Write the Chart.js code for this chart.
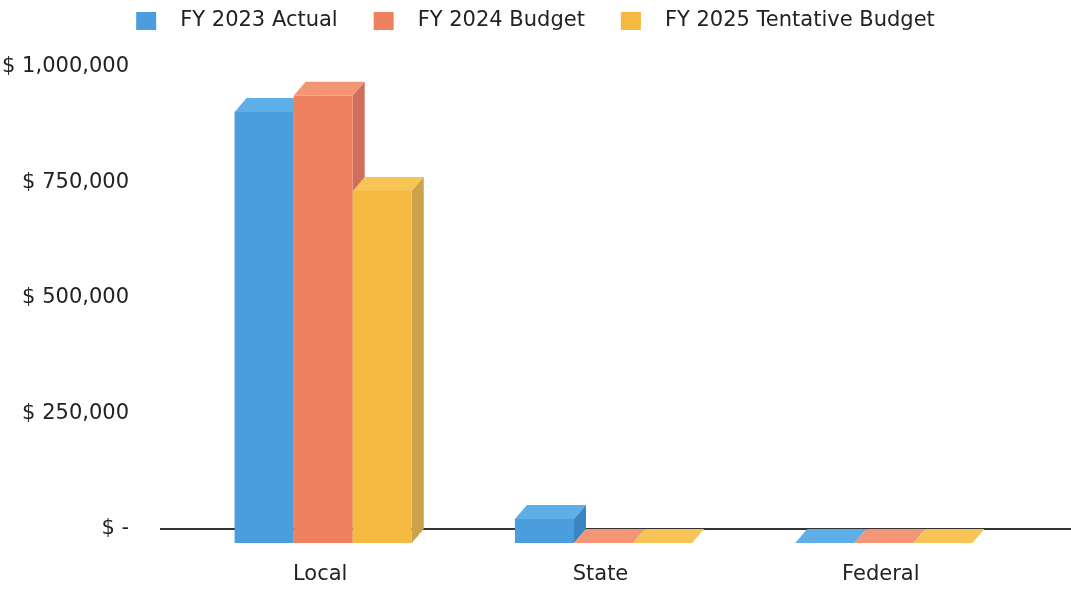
<!DOCTYPE html>
<html>
<head>
<meta charset="utf-8">
<title>Revenue by Source</title>
<script src="https://cdn.jsdelivr.net/npm/chart.js@4.4.0/dist/chart.umd.min.js"></script>
<style>
    html, body { margin: 0; padding: 0; background: #fff; }
    #wrap { width: 1071px; height: 591px; }
</style>
</head>
<body>
<div id="wrap"><canvas id="revenueChart"></canvas></div>
<script>
// Revenue by source, three budget years
const categories = ['Local', 'State', 'Federal'];
const seriesNames = ['FY 2023 Actual', 'FY 2024 Budget', 'FY 2025 Tentative Budget'];
const actual2023 = [933000, 52000, 0];
const budget2024 = [968000, 0, 0];
const tentative2025 = [762000, 0, 0];
const yTicks = [0, 250000, 500000, 750000, 1000000];

// front / top / side shades for the fake 3D boxes
const palette = [
    { front: '#4a9edd', top: '#5eafe8', side: '#3b84c2' },
    { front: '#ee8160', top: '#f29676', side: '#cf6e5d' },
    { front: '#f5b841', top: '#f7c455', side: '#c9a24a' }
];
const DEPTH_X = 12;
const DEPTH_Y = 14;
const FONT = '"DejaVu Sans", "Liberation Sans", Arial, sans-serif';
const TEXT = '#222';

function money(v) {
    return v === 0 ? '$ -' : '$ ' + v.toLocaleString('en-US');
}

function face(ctx, color, pts) {
    ctx.fillStyle = color;
    ctx.beginPath();
    ctx.moveTo(pts[0][0], pts[0][1]);
    for (let i = 1; i < pts.length; i++) ctx.lineTo(pts[i][0], pts[i][1]);
    ctx.closePath();
    ctx.fill();
}

// one box: top and right side pushed back by the depth offset
function drawBar(ctx, bar, colors) {
    const { x, y, base, width } = bar.getProps(['x', 'y', 'base', 'width'], true);
    const left = x - width / 2;
    const right = x + width / 2;
    const top = Math.min(y, base);

    face(ctx, colors.top, [
        [left, top], [left + DEPTH_X, top - DEPTH_Y],
        [right + DEPTH_X, top - DEPTH_Y], [right, top]
    ]);
    if (base - top > 0.5) {
        face(ctx, colors.side, [
            [right, top], [right + DEPTH_X, top - DEPTH_Y],
            [right + DEPTH_X, base - DEPTH_Y], [right, base]
        ]);
        ctx.fillStyle = colors.front;
        ctx.fillRect(left, top, width, base - top);
    }
}

const bar3d = {
    id: 'bar3d',
    beforeDatasetsDraw(chart) {
        const ctx = chart.ctx;
        const area = chart.chartArea;
        const floorY = chart.scales.y.getPixelForValue(0) - DEPTH_Y;

        ctx.save();
        // floor line along the back wall
        ctx.strokeStyle = '#333';
        ctx.lineWidth = 2;
        ctx.beginPath();
        ctx.moveTo(area.left - 23, floorY);
        ctx.lineTo(chart.width, floorY);
        ctx.stroke();

        // left to right inside each group so a bar hides the side of the previous one
        categories.forEach((c, i) => {
            chart.data.datasets.forEach((ds, d) => {
                drawBar(ctx, chart.getDatasetMeta(d).data[i], palette[d]);
            });
        });
        ctx.restore();
        return false;
    }
};

// legend row with a wider gap between swatch and text than the built-in one
const legendRow = {
    id: 'legendRow',
    afterDraw(chart) {
        const ctx = chart.ctx;
        const items = chart.legend.legendItems;
        const boxW = 20, boxH = 18, textGap = 24, itemGap = 36, midY = 21;

        ctx.save();
        ctx.font = '21px ' + FONT;
        ctx.textBaseline = 'middle';
        const widths = items.map(it => ctx.measureText(it.text).width);
        const total = widths.reduce((s, w) => s + boxW + textGap + w, 0) + itemGap * (items.length - 1);
        let x = chart.width / 2 - total / 2;

        items.forEach((it, i) => {
            ctx.fillStyle = it.fillStyle;
            ctx.fillRect(x, midY - boxH / 2, boxW, boxH);
            ctx.fillStyle = TEXT;
            ctx.fillText(it.text, x + boxW + textGap, midY);
            x += boxW + textGap + widths[i] + itemGap;
        });
        ctx.restore();
    }
};

const seriesData = [actual2023, budget2024, tentative2025];

new Chart(document.getElementById('revenueChart'), {
    type: 'bar',
    data: {
        labels: categories,
        datasets: seriesNames.map((name, i) => ({
            label: name,
            data: seriesData[i],
            backgroundColor: palette[i].front,
            barPercentage: 1,
            categoryPercentage: 0.632
        }))
    },
    options: {
        responsive: true,
        maintainAspectRatio: false,
        animation: false,
        layout: { padding: { top: 81, right: 47, bottom: 0, left: 0 } },
        plugins: {
            legend: { display: false },
            tooltip: { enabled: false }
        },
        scales: {
            x: {
                grid: { display: false, drawTicks: false },
                border: { display: false },
                ticks: {
                    color: TEXT,
                    font: { family: FONT, size: 21 },
                    padding: 19,
                    labelOffset: -3
                },
                afterFit(scale) { scale.height = 48; }
            },
            y: {
                min: 0,
                max: yTicks[yTicks.length - 1],
                // tick marks stay hidden; their length only spaces the labels off the bars
                grid: { display: false, drawTicks: true, tickLength: 54 },
                border: { display: false },
                afterBuildTicks(scale) {
                    scale.ticks = yTicks.map(v => ({ value: v }));
                },
                ticks: {
                    color: TEXT,
                    font: { family: FONT, size: 21 },
                    padding: 0,
                    labelOffset: -DEPTH_Y,
                    callback: v => money(v)
                },
                afterFit(scale) { scale.width = 183; }
            }
        }
    },
    plugins: [bar3d, legendRow]
});
</script>
</body>
</html>
